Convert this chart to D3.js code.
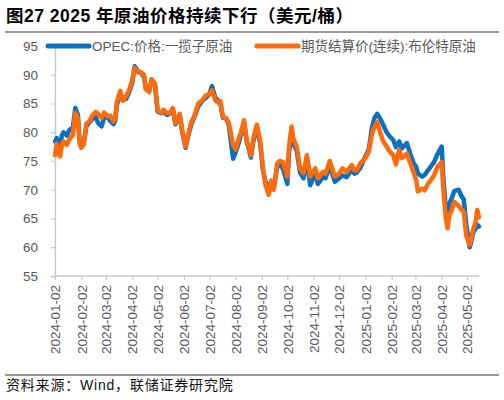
<!DOCTYPE html>
<html>
<head>
<meta charset="utf-8">
<script src="https://cdn.jsdelivr.net/npm/d3@7"></script>
<style>
    body { margin: 0; background: #fff; }
    text { font-family: "Liberation Sans", "Noto Sans CJK SC", sans-serif; }
</style>
</head>
<body>
<div id="chart"></div>
<script>

// series data
let dates = [
    "2024-01-02","2024-01-04","2024-01-08","2024-01-10","2024-01-12","2024-01-16","2024-01-19","2024-01-23","2024-01-26","2024-01-29",
    "2024-01-31","2024-02-02","2024-02-05","2024-02-08","2024-02-12","2024-02-15","2024-02-19","2024-02-22","2024-02-26","2024-02-29",
    "2024-03-04","2024-03-07","2024-03-11","2024-03-13","2024-03-15","2024-03-19","2024-03-22","2024-03-26","2024-03-29","2024-04-02",
    "2024-04-05","2024-04-09","2024-04-12","2024-04-16","2024-04-18","2024-04-22","2024-04-25","2024-04-29","2024-05-02","2024-05-06",
    "2024-05-09","2024-05-13","2024-05-16","2024-05-20","2024-05-23","2024-05-28","2024-05-31","2024-06-04","2024-06-07","2024-06-11",
    "2024-06-14","2024-06-19","2024-06-24","2024-06-28","2024-07-02","2024-07-05","2024-07-09","2024-07-12","2024-07-15","2024-07-18",
    "2024-07-22","2024-07-25","2024-07-30","2024-08-02","2024-08-05","2024-08-08","2024-08-12","2024-08-15","2024-08-20","2024-08-23",
    "2024-08-27","2024-08-31","2024-09-03","2024-09-06","2024-09-10","2024-09-13","2024-09-16","2024-09-20","2024-09-23","2024-09-27",
    "2024-10-02","2024-10-04","2024-10-07","2024-10-09","2024-10-13","2024-10-17","2024-10-21","2024-10-25","2024-10-29","2024-11-04",
    "2024-11-07","2024-11-13","2024-11-16","2024-11-21","2024-11-27","2024-12-02","2024-12-06","2024-12-11","2024-12-17","2024-12-20",
    "2024-12-23","2024-12-27","2025-01-02","2025-01-06","2025-01-10","2025-01-13","2025-01-16","2025-01-19","2025-01-23","2025-01-27",
    "2025-01-30","2025-02-04","2025-02-07","2025-02-11","2025-02-14","2025-02-20","2025-02-24","2025-02-28","2025-03-03","2025-03-05",
    "2025-03-10","2025-03-13","2025-03-17","2025-03-20","2025-03-24","2025-03-28","2025-04-02","2025-04-04","2025-04-07","2025-04-09",
    "2025-04-11","2025-04-14","2025-04-17","2025-04-22","2025-04-25","2025-04-28","2025-05-01","2025-05-05","2025-05-07","2025-05-09",
    "2025-05-12","2025-05-14","2025-05-16"
];

let opecValues = [
    78.4, 79.0, 77.2, 79.4, 80.0, 79.4, 80.4, 80.8, 84.2, 83.0,
    78.6, 78.0, 78.2, 81.0, 81.8, 82.3, 82.6, 81.6, 81.0, 82.6,
    82.6, 82.0, 81.4, 82.0, 84.8, 86.5, 85.6, 85.8, 86.8, 88.5,
    91.5, 90.6, 90.4, 89.6, 87.8, 87.2, 89.2, 88.0, 83.6, 83.3,
    83.6, 83.0, 83.2, 84.0, 81.4, 83.0, 80.0, 77.3, 79.3, 81.5,
    82.5, 84.5, 85.5, 86.0, 86.6, 88.0, 86.0, 85.6, 85.0, 82.5,
    82.4, 81.2, 75.4, 76.5, 77.8, 79.4, 81.6, 78.5, 75.6, 78.5,
    81.0, 78.0, 73.6, 71.5, 70.5, 70.6, 70.4, 73.8, 74.5, 73.6,
    71.0, 76.5, 80.2, 78.0, 76.8, 73.0, 72.0, 75.2, 70.8, 72.8,
    71.0, 72.2, 72.0, 74.2, 71.4, 72.0, 72.5, 72.2, 73.5, 72.8,
    73.0, 73.8, 75.8, 77.0, 81.0, 82.6, 83.2, 82.5, 81.3, 80.0,
    79.4, 78.6, 77.4, 78.4, 77.2, 78.1, 76.2, 74.6, 74.0, 72.8,
    72.3, 72.6, 73.4, 74.0, 74.8, 76.2, 77.5, 72.0, 66.4, 66.0,
    67.6, 68.6, 69.8, 70.0, 69.0, 68.3, 64.0, 60.0, 61.0, 62.5,
    63.2, 63.9, 63.6
];

let brentValues = [
    76.0, 78.0, 75.8, 77.6, 78.4, 77.8, 78.8, 79.5, 83.4, 82.4,
    78.0, 77.3, 77.9, 81.5, 82.0, 82.9, 83.5, 83.2, 82.5, 83.4,
    82.8, 82.9, 81.9, 82.5, 85.3, 87.2, 85.5, 86.3, 87.2, 89.0,
    91.2, 90.4, 90.5, 90.0, 87.5, 87.0, 89.2, 88.4, 83.8, 83.4,
    83.9, 83.3, 83.3, 84.2, 81.6, 83.2, 80.4, 77.5, 79.6, 81.9,
    82.7, 85.0, 85.6, 86.4, 86.6, 87.3, 85.6, 85.2, 85.4, 82.7,
    82.4, 81.6, 77.8, 77.0, 78.6, 79.8, 82.1, 78.6, 76.0, 79.0,
    81.3, 78.4, 74.0, 71.0, 69.1, 71.6, 70.0, 74.6, 75.0, 74.8,
    72.3, 77.5, 81.0, 78.9, 77.5, 73.7, 72.9, 76.0, 72.3, 73.7,
    72.0, 73.1, 72.8, 75.0, 72.3, 72.8, 73.7, 73.1, 74.3, 73.4,
    73.4, 74.6, 75.5, 76.6, 79.8, 81.0, 81.8, 80.2, 78.4, 77.6,
    76.8, 76.0, 74.4, 76.9, 75.5, 76.3, 74.6, 72.9, 71.6, 69.7,
    70.2, 69.9, 71.1, 71.6, 72.5, 74.0, 74.8, 70.0, 65.0, 63.3,
    65.5, 66.5, 67.9, 67.2, 66.6, 66.2, 62.0, 60.4, 61.6, 63.0,
    64.4, 66.5, 65.2
];

let seriesNames = ["OPEC:价格:一揽子原油", "期货结算价(连续):布伦特原油"];
let seriesColors = ["#0A70C4", "#FF6A0A"];

let yTicks = [55, 60, 65, 70, 75, 80, 85, 90, 95];
let xTickLabels = [
    "2024-01-02","2024-02-02","2024-03-02","2024-04-02","2024-05-02","2024-06-02","2024-07-02","2024-08-02",
    "2024-09-02","2024-10-02","2024-11-02","2024-12-02","2025-01-02","2025-02-02","2025-03-02","2025-04-02","2025-05-02"
];

let titleText = "图27 2025 年原油价格持续下行（美元/桶）";
let sourceText = "资料来源：Wind，联储证券研究院";

// layout
let W = 504, H = 400;
let plot = {left: 55, right: 479, top: 46, bottom: 276};
let parseDate = d3.timeParse("%Y-%m-%d");

let svg = d3.select("#chart").append("svg")
    .attr("width", W)
    .attr("height", H);

// title + rules
svg.append("text")
    .attr("x", 6)
    .attr("y", 22)
    .attr("font-size", 17.5)
    .attr("font-weight", "bold")
    .attr("letter-spacing", 0.5)
    .attr("fill", "#000")
    .text(titleText);

svg.append("line")
    .attr("x1", 5).attr("x2", 499)
    .attr("y1", 32).attr("y2", 32)
    .attr("stroke", "#333").attr("stroke-width", 1);

svg.append("line")
    .attr("x1", 5).attr("x2", 499)
    .attr("y1", 375).attr("y2", 375)
    .attr("stroke", "#333").attr("stroke-width", 1);

svg.append("text")
    .attr("x", 6)
    .attr("y", 390)
    .attr("font-size", 14)
    .attr("letter-spacing", 0.8)
    .attr("fill", "#111")
    .text(sourceText);

// scales
let x = d3.scaleTime()
    .domain([parseDate("2024-01-02"), parseDate("2025-05-16")])
    .range([plot.left, plot.right]);

let y = d3.scaleLinear()
    .domain([55, 95])
    .range([plot.bottom, plot.top]);

// y axis
let yAxis = d3.axisLeft(y)
    .tickValues(yTicks)
    .tickSize(4)
    .tickPadding(13);

let yG = svg.append("g")
    .attr("class", "y-axis")
    .attr("transform", `translate(${plot.left},0)`)
    .call(yAxis);

// x axis
let xAxis = d3.axisBottom(x)
    .tickValues(xTickLabels.map(parseDate))
    .tickFormat(d3.timeFormat("%Y-%m-%d"))
    .tickSize(4)
    .tickSizeOuter(0);

let xG = svg.append("g")
    .attr("class", "x-axis")
    .attr("transform", `translate(0,${plot.bottom})`)
    .call(xAxis);

xG.selectAll("text")
    .attr("transform", "rotate(-90)")
    .attr("text-anchor", "end")
    .attr("x", -9)
    .attr("y", 0)
    .attr("dy", "0.35em");

[yG, xG].forEach(g => {
    g.select(".domain").attr("stroke", "#c8c8c8").attr("stroke-width", 1.5);
    g.selectAll(".tick line").attr("stroke", "#c8c8c8").attr("stroke-width", 1.2);
    g.selectAll("text")
        .attr("fill", "#595959")
        .attr("font-size", 13.5)
        .style("font-family", "'Liberation Sans', sans-serif");
});
xG.select(".domain").attr("d", `M${plot.left},0H${plot.right}`);

// lines
let line = d3.line()
    .x(d => x(d.date))
    .y(d => y(d.value))
    .curve(d3.curveLinear);

[opecValues, brentValues].forEach((vals, i) => {
    let data = dates.map((s, j) => ({date: parseDate(s), value: vals[j]}));
    svg.append("path")
        .datum(data)
        .attr("fill", "none")
        .attr("stroke", seriesColors[i])
        .attr("stroke-width", 4.5)
        .attr("stroke-linejoin", "round")
        .attr("stroke-linecap", "round")
        .attr("d", line);
});

// legend
let legendX = [48, 257];
seriesNames.forEach((name, i) => {
    let g = svg.append("g").attr("transform", `translate(${legendX[i]},46)`);
    g.append("line")
        .attr("x1", 0).attr("x2", 41)
        .attr("y1", 0).attr("y2", 0)
        .attr("stroke", seriesColors[i])
        .attr("stroke-width", 5)
        .attr("stroke-linecap", "round");
    g.append("text")
        .attr("x", 44)
        .attr("y", 5)
        .attr("font-size", 13.5)
        .attr("fill", "#595959")
        .text(name);
});

</script>
</body>
</html>
